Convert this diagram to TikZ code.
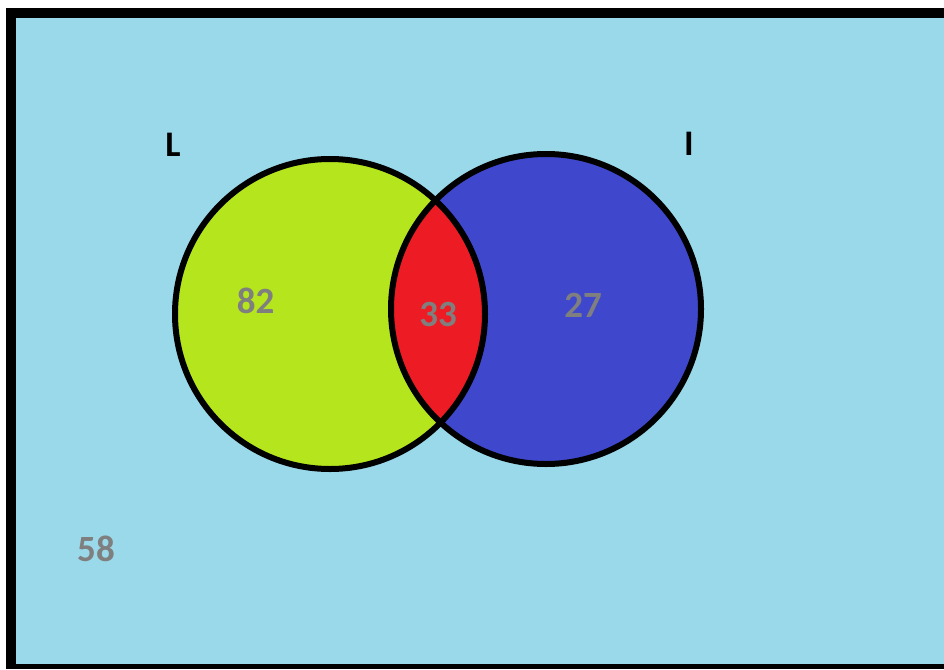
\documentclass[tikz,border=0pt]{standalone}
\usepackage{fontspec}
\setmainfont{Carlito}
\definecolor{bgblue}{RGB}{153,217,234}
\definecolor{lime}{RGB}{181,230,29}
\definecolor{indigo}{RGB}{63,72,204}
\definecolor{redx}{RGB}{237,28,36}
\definecolor{numgray}{RGB}{127,127,127}
\tikzset{
  setlabel/.style={font=\fontsize{36}{38}\selectfont\bfseries, text=black, inner sep=0pt},
  numlabel/.style={font=\fontsize{37}{39}\selectfont\bfseries, text=numgray, inner sep=0pt},
  ring/.style={draw=black, line width=6pt}
}
\begin{document}
\begin{tikzpicture}[x=1pt,y=-1pt]
\useasboundingbox (0,0) rectangle (944,669);
\fill[white] (0,0) rectangle (944,669);
\fill[black] (6,8) rectangle (944,669);
\fill[bgblue] (16,18) rectangle (944,664);
\coordinate (cL) at (330,314);
\coordinate (cI) at (546,309);
\fill[lime] (cL) circle[radius=155];
\fill[indigo] (cI) circle[radius=155];
\begin{scope}
  \clip (cL) circle[radius=155];
  \fill[redx] (cI) circle[radius=155];
\end{scope}
\draw[ring] (cL) circle[radius=155];
\draw[ring] (cI) circle[radius=155];
\node[setlabel] (labL) at (173,145) {L};
\node[setlabel] (labI) at (689,144) {I};
\node[numlabel] (n82) at (255.5,301) {82};
\node[numlabel] (n33) at (438,314) {33};
\node[numlabel] (n27) at (583,305) {27};
\node[numlabel] (n58) at (96,549) {58};
\end{tikzpicture}
\end{document}
